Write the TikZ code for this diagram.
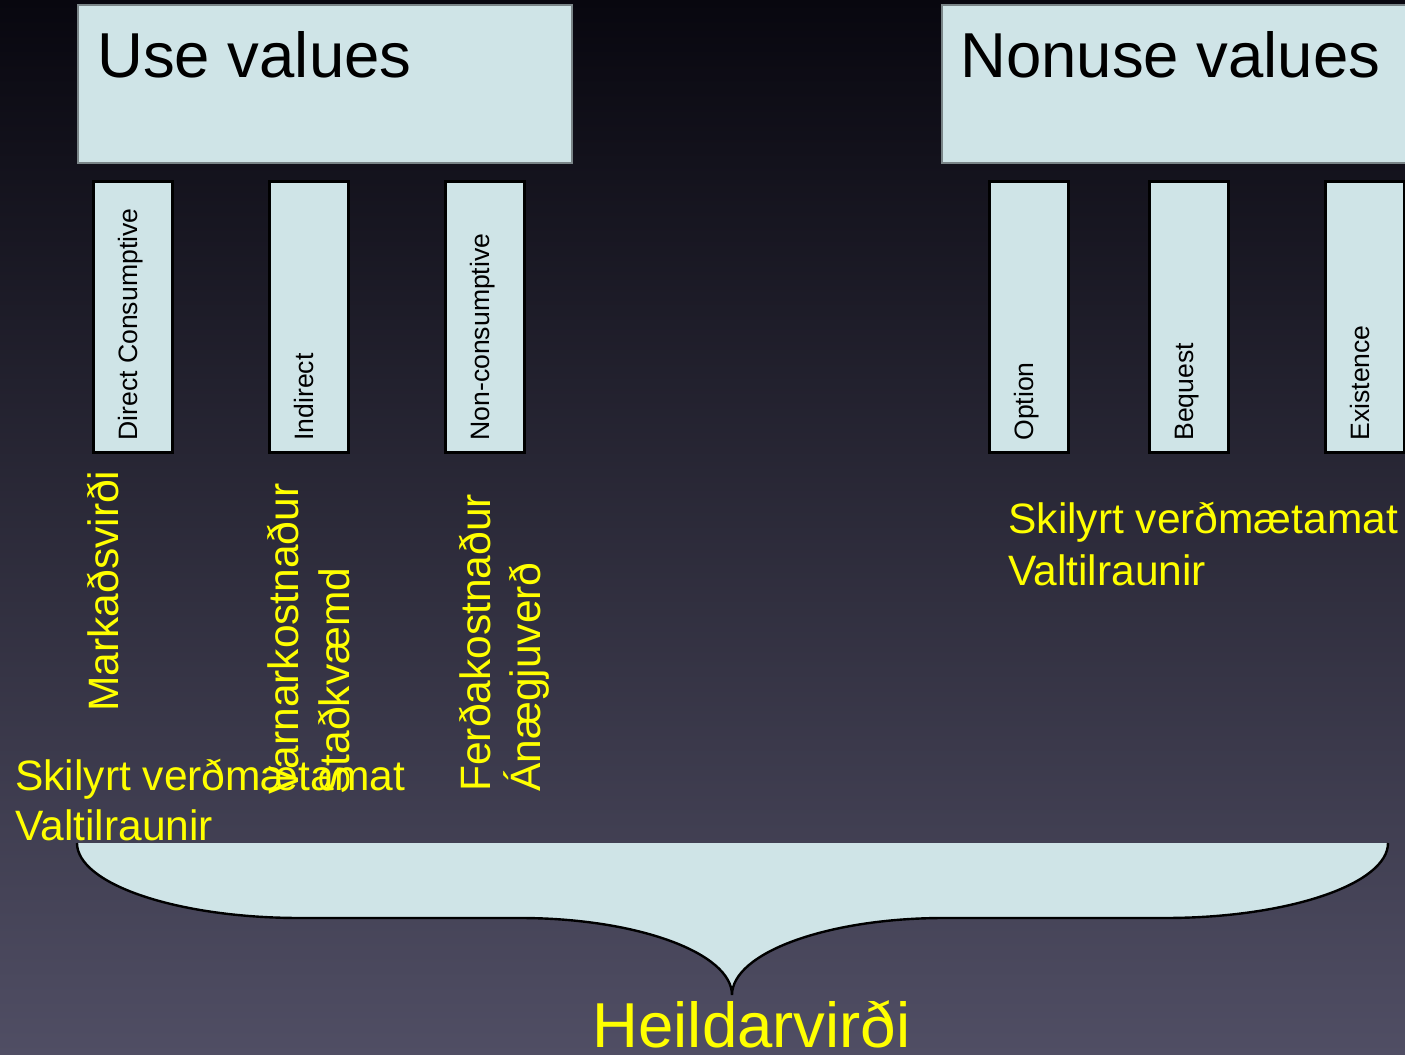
\documentclass[tikz,border=0pt]{standalone}
\usepackage{fontspec}
\setmainfont{Liberation Sans}
\usetikzlibrary{positioning}

\definecolor{boxfill}{HTML}{CFE4E7}
\definecolor{bgtop}{HTML}{08070F}
\definecolor{bgbottom}{HTML}{504E64}
\definecolor{boxline}{HTML}{7A8588}
\definecolor{labelyellow}{HTML}{FFFF00}

\begin{document}
\begin{tikzpicture}[x=0.5pt,y=-0.5pt,
    bigbox/.style={draw=boxline,fill=boxfill,line width=0.8pt,inner sep=0,
      anchor=north west,minimum height=79pt},
    subbox/.style={draw=black,fill=boxfill,line width=1.4pt,inner sep=0,
      anchor=north west,minimum width=39.5pt,minimum height=135.5pt},
    titletext/.style={inner sep=0,anchor=base west,font=\fontsize{31.75}{38}\selectfont},
    sublabel/.style={inner sep=0,anchor=base west,rotate=90,font=\fontsize{13.3}{16}\selectfont},
    yellowtext/.style={inner sep=0,anchor=base west,text=labelyellow,
      font=\fontsize{21.25}{26}\selectfont},
    yellowrot/.style={yellowtext,rotate=90}]

  % background
  \clip (0,0) rectangle (1405,1055);
  \fill[top color=bgtop,bottom color=bgbottom] (0,0) rectangle (1405,1055);

  % value groups
  \node[bigbox,minimum width=247pt] (use) at (77,4) {};
  \node[bigbox,minimum width=240pt] (nonuse) at (941,4) {};
  \node[titletext] (usetitle) at (97,77) {Use values};
  \node[titletext] (nonusetitle) at (960,77) {Nonuse values};

  % sub categories
  \foreach \name/\x/\txt in {direct/92/Direct Consumptive, indirect/268/Indirect,
      noncons/444/Non-consumptive, option/988/Option, bequest/1148/Bequest,
      existence/1324/Existence}{
    \node[subbox] (\name) at (\x,180) {};
    \node[sublabel] (\name-label) at (\x+45.5,441) {\txt};
  }

  % methods
  \node[yellowrot] (market) at (118,712) {Markaðsvirði};
  \node[yellowrot] (defcost) at (298,795) {Varnarkostnaður};
  \node[yellowrot] (substitute) at (349,795) {Staðkvæmd};
  \node[yellowrot] (travel) at (490,792) {Ferðakostnaður};
  \node[yellowrot] (hedonic) at (540,792) {Ánægjuverð};
  \node[yellowtext] (cvleft) at (15,790) {Skilyrt verðmætamat};
  \node[yellowtext] (celeft) at (15,840) {Valtilraunir};
  \node[yellowtext] (cvright) at (1008,533) {Skilyrt verðmætamat};
  \node[yellowtext] (ceright) at (1008,585) {Valtilraunir};

  % brace
  \fill[boxfill] (77,843) .. controls (77,884) and (177,918) .. (300,918)
    -- (520,918) .. controls (637,918) and (732,953) .. (732,995)
    .. controls (732,953) and (827,918) .. (944,918)
    -- (1165,918) .. controls (1288,918) and (1388,884) .. (1388,843) -- cycle;
  \draw[black,line width=1.2pt] (77,843) .. controls (77,884) and (177,918) .. (300,918)
    -- (520,918) .. controls (637,918) and (732,953) .. (732,995)
    .. controls (732,953) and (827,918) .. (944,918)
    -- (1165,918) .. controls (1288,918) and (1388,884) .. (1388,843);

  \node[yellowtext,anchor=base,font=\fontsize{31.75}{38}\selectfont] (total) at (751.5,1047) {Heildarvirði};
\end{tikzpicture}
\end{document}
